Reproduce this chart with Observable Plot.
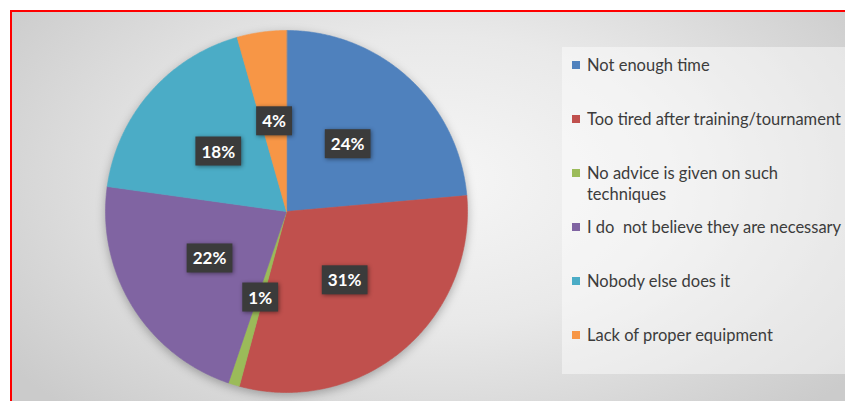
<!DOCTYPE html>
<html>
<head>
<meta charset="utf-8">
<script src="https://cdn.jsdelivr.net/npm/d3@7"></script>
<script src="https://cdn.jsdelivr.net/npm/@observablehq/plot@0.6"></script>
<style>
  html, body { margin: 0; padding: 0; background: #fff; }
  #wrap { position: relative; width: 845px; height: 401px; overflow: hidden; background: #fff; font-family: Lato, "Open Sans", sans-serif; }
  #bg { position: absolute; left: 10px; top: 10px; width: 850px; height: 400px;
        border-top: 2px solid #ff0000; border-left: 2px solid #ff0000;
        background: radial-gradient(ellipse 62% 80% at 50% 42%, #f6f6f6 0%, #e9e9e9 45%, #cbcbcb 100%); }
  #chart { position: absolute; left: 0; top: 0; }
  #legend { position: absolute; left: 562px; top: 47px; width: 300px; height: 327px;
            background: rgba(255,255,255,0.45); padding-top: 8px; box-sizing: border-box; }
  .item { position: relative; height: 54px; padding-left: 25px; font-size: 16.5px; line-height: 21px;
          color: #3c3c3c; white-space: pre-wrap; width: 262px; }
  .sw { position: absolute; left: 10px; top: 6px; width: 8px; height: 8px; }
</style>
</head>
<body>
<div id="wrap">
  <div id="bg"></div>
  <div id="chart"></div>
  <div id="legend"></div>
</div>
<script>
const categories = [
  "Not enough time",
  "Too tired after training/tournament",
  "No advice is given on such techniques",
  "I do  not believe they are necessary",
  "Nobody else does it",
  "Lack of proper equipment"
];
// slice sizes (percent)
const shares = [23.6, 30.6, 1.0, 22.0, 18.4, 4.4];
// data labels as printed on the chart
const labelPcts = [24, 31, 1, 22, 18, 4];
const colors = ["#4F81BD", "#C0504D", "#9BBB59", "#8064A2", "#4BACC6", "#F79646"];

// Build slice outlines (unit radius, clockwise from 12 o'clock)
const total = d3.sum(shares);
const slicePts = [];
const labels = [];
let acc = 0;
shares.forEach((v, i) => {
  const a0 = acc / total * 2 * Math.PI;
  const a1 = (acc + v) / total * 2 * Math.PI;
  acc += v;
  slicePts.push({cat: categories[i], x: 0, y: 0});
  const n = Math.max(2, Math.ceil((a1 - a0) / (Math.PI / 360)));
  for (let k = 0; k <= n; k++) {
    const a = a0 + (a1 - a0) * k / n;
    slicePts.push({cat: categories[i], x: Math.sin(a), y: Math.cos(a)});
  }
  const am = (a0 + a1) / 2;
  labels.push({cat: categories[i], x: 0.5 * Math.sin(am), y: 0.5 * Math.cos(am), text: labelPcts[i] + "%"});
});

const W = 845, H = 401, R = 181, CX = 286, CY = 211;
const chart = Plot.plot({
  width: W, height: H,
  marginLeft: 0, marginRight: 0, marginTop: 0, marginBottom: 0,
  style: {background: "transparent", overflow: "visible"},
  x: {domain: [-CX / R, (W - CX) / R], axis: null},
  y: {domain: [-(H - CY) / R, CY / R], axis: null},
  color: {domain: categories, range: colors},
  marks: [
    Plot.line(slicePts, {x: "x", y: "y", z: "cat", fill: "cat", stroke: "cat", strokeWidth: 0.6, curve: "linear-closed"}),
    Plot.text(labels, {x: "x", y: "y", text: "text", fill: "white", fontWeight: "bold", fontSize: 17, fontFamily: "Lato, sans-serif"})
  ]
});
document.getElementById("chart").appendChild(chart);

// pie shadow
chart.querySelectorAll('g[aria-label="line"]').forEach(g => {
  g.style.filter = "drop-shadow(0px 3px 5px rgba(0,0,0,0.28))";
});

// dark boxes behind data labels
chart.querySelectorAll('g[aria-label="text"] text').forEach(t => {
  const b = t.getBBox();
  const r = document.createElementNS("http://www.w3.org/2000/svg", "rect");
  const w = b.width + 12, h = 29;
  r.setAttribute("x", b.x + b.width / 2 - w / 2);
  r.setAttribute("y", b.y + b.height / 2 - h / 2);
  r.setAttribute("width", w);
  r.setAttribute("height", h);
  r.setAttribute("fill", "#3b3b3b");
  r.style.filter = "drop-shadow(1px 1px 2px rgba(0,0,0,0.45))";
  const tr = t.getAttribute("transform");
  if (tr) r.setAttribute("transform", tr);
  t.parentNode.insertBefore(r, t);
});

// legend
const leg = document.getElementById("legend");
categories.forEach((c, i) => {
  const d = document.createElement("div");
  d.className = "item";
  const s = document.createElement("span");
  s.className = "sw";
  s.style.background = colors[i];
  d.appendChild(s);
  d.appendChild(document.createTextNode(c));
  leg.appendChild(d);
});
</script>
</body>
</html>
